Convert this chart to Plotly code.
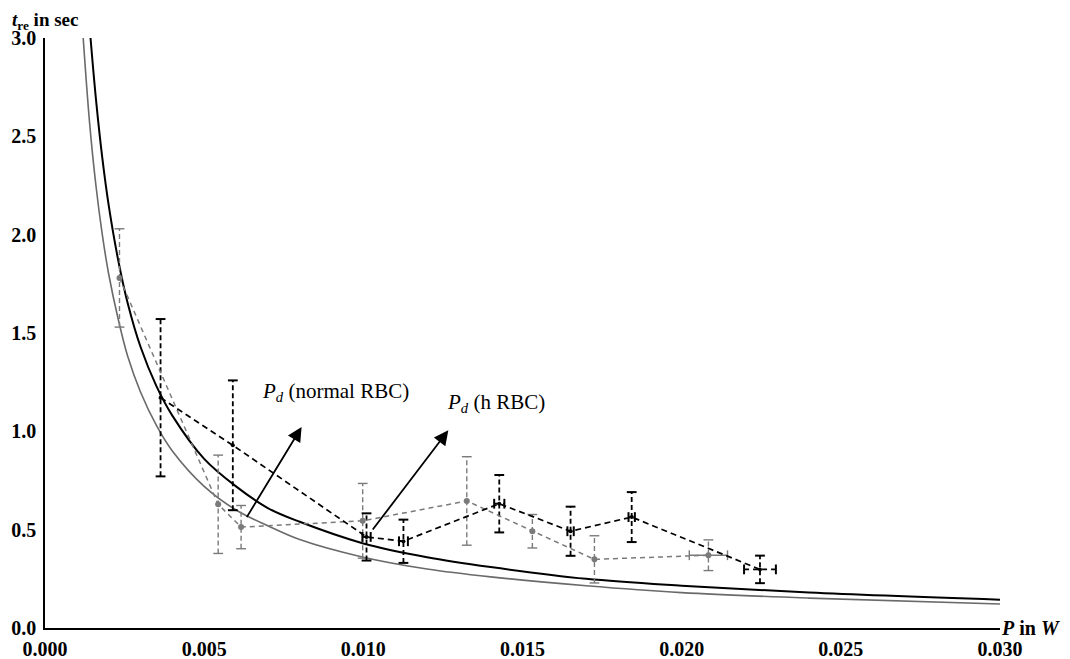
import plotly.graph_objects as go

# Fitted curves
black_curve_P = [0.00143, 0.0016, 0.0018, 0.002, 0.0023, 0.0026, 0.003, 0.0035, 0.004, 0.005,
                 0.006, 0.007, 0.008, 0.010, 0.012, 0.014, 0.017, 0.020, 0.024, 0.030]
black_curve_t = [3.00, 2.69, 2.39, 2.15, 1.87, 1.65, 1.43, 1.23, 1.08, 0.86,
                 0.72, 0.61, 0.54, 0.43, 0.36, 0.31, 0.25, 0.215, 0.18, 0.144]
gray_curve_P = [0.0012, 0.0014, 0.0016, 0.0018, 0.002, 0.0023, 0.0026, 0.003, 0.0035, 0.004,
                0.005, 0.006, 0.007, 0.008, 0.010, 0.012, 0.014, 0.017, 0.020, 0.024, 0.030]
gray_curve_t = [3.00, 2.57, 2.25, 2.00, 1.80, 1.57, 1.38, 1.20, 1.03, 0.90,
                0.72, 0.60, 0.52, 0.45, 0.36, 0.30, 0.26, 0.215, 0.18, 0.152, 0.122]

# Measured series (gray)
gray_P = [0.00234, 0.00544, 0.00616, 0.00998, 0.01325, 0.01531, 0.01726, 0.02084]
gray_t = [1.78, 0.629, 0.513, 0.545, 0.646, 0.492, 0.349, 0.370]
gray_terr = [0.25, 0.25, 0.11, 0.19, 0.225, 0.085, 0.12, 0.078]
gray_Perr = [0, 0, 0, 0, 0, 0, 0, 0.0006]

# Measured series (black)
black_P = [0.00363, 0.0059, 0.0101, 0.01126, 0.01427, 0.01651, 0.01843, 0.02246]
black_t = [1.171, 0.929, 0.463, 0.441, 0.632, 0.492, 0.564, 0.298]
black_terr = [0.40, 0.33, 0.12, 0.11, 0.146, 0.125, 0.127, 0.07]
black_Perr = [0, 0, 0.00013, 0.00014, 0.00016, 0.0001, 0.0001, 0.0005]

x_ticks = [0.000, 0.005, 0.010, 0.015, 0.020, 0.025, 0.030]
y_ticks = [0.0, 0.5, 1.0, 1.5, 2.0, 2.5, 3.0]

GRAY = "#7a7a7a"
GRAYC = "#6a6a6a"

fig = go.Figure()

# curves
fig.add_trace(go.Scatter(x=gray_curve_P, y=gray_curve_t, mode="lines",
                         line=dict(color=GRAYC, width=1.6, shape="spline"), showlegend=False))
fig.add_trace(go.Scatter(x=black_curve_P, y=black_curve_t, mode="lines",
                         line=dict(color="black", width=2, shape="spline"), showlegend=False))


def err_traces(P, t, terr, Perr, color, width, capw, capsize, hdash):
    vx, vy, cx, cy = [], [], [], []
    hx, hy, hcx, hcy = [], [], [], []
    for p, v, e, pe in zip(P, t, terr, Perr):
        vx += [p, p, None]
        vy += [v - e, v + e, None]
        cx += [p, p]
        cy += [v - e, v + e]
        if pe > 0:
            hx += [p - pe, p + pe, None]
            hy += [v, v, None]
            hcx += [p - pe, p + pe]
            hcy += [v, v]
    fig.add_trace(go.Scatter(x=vx, y=vy, mode="lines",
                             line=dict(color=color, width=width, dash="5px,3px"), showlegend=False))
    fig.add_trace(go.Scatter(x=cx, y=cy, mode="markers",
                             marker=dict(symbol="line-ew", size=capsize,
                                         line=dict(color=color, width=capw)), showlegend=False))
    if hx:
        fig.add_trace(go.Scatter(x=hx, y=hy, mode="lines",
                                 line=dict(color=color, width=width, dash=hdash), showlegend=False))
        fig.add_trace(go.Scatter(x=hcx, y=hcy, mode="markers",
                                 marker=dict(symbol="line-ns", size=capsize,
                                             line=dict(color=color, width=capw)), showlegend=False))


err_traces(gray_P, gray_t, gray_terr, gray_Perr, GRAY, 1.4, 1.4, 7, "solid")
err_traces(black_P, black_t, black_terr, black_Perr, "black", 1.8, 2, 7, "5px,4px")

fig.add_trace(go.Scatter(x=gray_P, y=gray_t, mode="lines+markers",
                         line=dict(color=GRAY, width=1.5, dash="5px,4px"),
                         marker=dict(color=GRAY, size=6), showlegend=False))
fig.add_trace(go.Scatter(x=black_P, y=black_t, mode="lines+markers",
                         line=dict(color="black", width=1.7, dash="6px,4px"),
                         marker=dict(color="black", size=4), showlegend=False))

serif = "Liberation Serif, Times New Roman, DejaVu Serif, serif"

annotations = [
    dict(x=0.00806, y=1.022, ax=0.00631, ay=0.556, xref="x", yref="y", axref="x", ayref="y",
         showarrow=True, arrowhead=2, arrowsize=1.6, arrowwidth=1.8, arrowcolor="black", text=""),
    dict(x=0.01267, y=1.005, ax=0.01026, ay=0.493, xref="x", yref="y", axref="x", ayref="y",
         showarrow=True, arrowhead=2, arrowsize=1.6, arrowwidth=1.8, arrowcolor="black", text=""),
    dict(x=0.00911, y=1.198, xref="x", yref="y", showarrow=False,
         text="<i>P</i><sub><i>d</i></sub> (normal RBC)",
         font=dict(family=serif, size=21, color="black")),
    dict(x=0.01418, y=1.142, xref="x", yref="y", showarrow=False,
         text="<i>P</i><sub><i>d</i></sub> (h RBC)",
         font=dict(family=serif, size=21, color="black")),
    dict(x=-0.036, y=(628 - 8) / 590, xref="paper", yref="paper", xanchor="left", yanchor="top",
         showarrow=False, text="<b><i>t</i><sub>re</sub> in sec</b>", borderpad=0,
         font=dict(family=serif, size=19, color="black")),
    dict(x=(1061 - 45) / 955, y=0, xref="paper", yref="paper", xanchor="right", yanchor="middle",
         showarrow=False, text="<b><i>P</i> in <i>W</i></b>", borderpad=0,
         font=dict(family=serif, size=20, color="black")),
]

fig.update_layout(
    width=1062, height=651,
    font=dict(family=serif),
    margin=dict(l=37, r=70, t=30, b=31, autoexpand=False),
    paper_bgcolor="white", plot_bgcolor="white",
    annotations=annotations,
    xaxis=dict(range=[0, 0.030], tickvals=x_ticks, ticktext=[f"<b>{v:.3f}</b>" for v in x_ticks],
               showgrid=False, zeroline=False, showline=True, linecolor="black", linewidth=1.5,
               ticks="outside", ticklen=2, tickcolor="rgba(0,0,0,0)", automargin=False,
               tickfont=dict(family=serif, size=20, color="black")),
    yaxis=dict(range=[0, 3.0], tickvals=y_ticks, ticktext=[f"<b>{v:.1f}</b>" for v in y_ticks],
               showgrid=False, zeroline=False, showline=True, linecolor="black", linewidth=1.5,
               ticks="outside", ticklen=3, tickcolor="rgba(0,0,0,0)", automargin=False,
               tickfont=dict(family=serif, size=20, color="black")),
)

fig.write_html("out.html")
